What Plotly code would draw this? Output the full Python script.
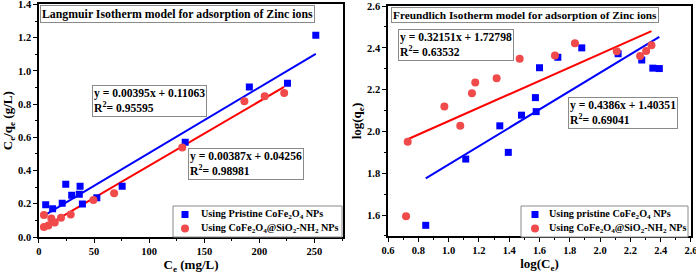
import plotly.graph_objects as go

# ---- Langmuir data ----
lang_pristine_x = [6.1, 12.4, 21.1, 24.3, 29.7, 37.3, 36.6, 39.4, 52.5, 75.5, 132.7, 190.9, 225.5, 251.2]
lang_pristine_y = [0.194, 0.170, 0.203, 0.317, 0.251, 0.306, 0.258, 0.198, 0.236, 0.306, 0.571, 0.903, 0.925, 1.214]
lang_sio2_x = [4.5, 4.5, 8.5, 11.2, 14.3, 20.0, 28.8, 49.4, 68.2, 130.0, 186.4, 204.8, 222.5]
lang_sio2_y = [0.132, 0.060, 0.070, 0.112, 0.088, 0.116, 0.136, 0.222, 0.263, 0.539, 0.817, 0.847, 0.867]
lang_fit_pristine = (0.00395, 0.11063)
lang_fit_sio2 = (0.00387, 0.04256)
lang_yticks = [0.0, 0.2, 0.4, 0.6, 0.8, 1.0, 1.2, 1.4]
lang_names = ["Using Pristine CoFe<sub>2</sub>O<sub>4</sub> NPs",
              "Using CoFe<sub>2</sub>O<sub>4</sub>@SiO<sub>2</sub>-NH<sub>2</sub> NPs"]

# ---- Freundlich data ----
fr_pristine_x = [0.849, 1.113, 1.394, 1.338, 1.481, 1.578, 1.573, 1.600, 1.721, 1.879, 2.119, 2.275, 2.348, 2.391]
fr_pristine_y = [1.551, 1.868, 1.900, 2.027, 2.078, 2.095, 2.162, 2.305, 2.355, 2.400, 2.372, 2.342, 2.303, 2.301]
fr_sio2_x = [0.719, 0.730, 0.972, 1.077, 1.154, 1.176, 1.317, 1.469, 1.702, 1.834, 2.110, 2.264, 2.304, 2.339]
fr_sio2_y = [1.594, 1.951, 2.119, 2.027, 2.183, 2.234, 2.255, 2.348, 2.363, 2.422, 2.384, 2.361, 2.385, 2.412]
fr_fit_pristine = (0.4386, 1.40351)
fr_fit_sio2 = (0.32151, 1.72798)
fr_names = ["Using pristine CoFe<sub>2</sub>O<sub>4</sub> NPs",
            "Using CoFe<sub>2</sub>O<sub>4</sub>@SiO<sub>2</sub>-NH<sub>2</sub> NPs"]

BLUE = "#0000FF"
RED_M = "#F04A4A"
RED_L = "#FF0000"
FONT = "Liberation Serif"
GRAY = "#8a8a8a"

def fit_line(xs, coef):
    x0, x1 = min(xs), max(xs)
    return [x0, x1], [coef[0] * x0 + coef[1], coef[0] * x1 + coef[1]]

fig = go.Figure()

def add_panel(xa, ya, px, py, sx, sy, cp, cs, names):
    lx, ly = fit_line(px, cp)
    fig.add_trace(go.Scatter(x=lx, y=ly, mode="lines", line=dict(color=BLUE, width=2), showlegend=False, xaxis=xa, yaxis=ya))
    lx, ly = fit_line(sx, cs)
    fig.add_trace(go.Scatter(x=lx, y=ly, mode="lines", line=dict(color=RED_L, width=2), showlegend=False, xaxis=xa, yaxis=ya))
    fig.add_trace(go.Scatter(x=px, y=py, mode="markers", marker=dict(symbol="square", size=7, color=BLUE),
                             name=names[0], showlegend=False, xaxis=xa, yaxis=ya))
    fig.add_trace(go.Scatter(x=sx, y=sy, mode="markers", marker=dict(symbol="circle", size=8, color=RED_M),
                             name=names[1], showlegend=False, xaxis=xa, yaxis=ya))

add_panel("x", "y", lang_pristine_x, lang_pristine_y, lang_sio2_x, lang_sio2_y, lang_fit_pristine, lang_fit_sio2, lang_names)
add_panel("x2", "y2", fr_pristine_x, fr_pristine_y, fr_sio2_x, fr_sio2_y, fr_fit_pristine, fr_fit_sio2, fr_names)

tickfont = dict(family=FONT, size=10.5, color="black", weight="bold")
titlefont = dict(family=FONT, size=13, color="black", weight="bold")

def ax(**kw):
    d = dict(showline=True, linecolor="black", linewidth=1.5, mirror=True, ticks="outside",
             ticklen=4, tickwidth=1.2, tickcolor="black", showgrid=False, zeroline=False, automargin=False,
             ticklabeloverflow="allow",
             tickfont=tickfont, minor=dict(ticks="outside", ticklen=2.5, tickwidth=1, tickcolor="black"))
    d.update(kw)
    return d

fig.update_layout(
    template="none",
    width=696, height=276, margin=dict(l=0, r=0, t=0, b=0, autoexpand=False),
    paper_bgcolor="white", plot_bgcolor="white", showlegend=False,
    xaxis=ax(domain=[0.056, 0.493], range=[0, 276], dtick=50, tick0=0, minor_dtick=25,
             title=dict(text="C<sub>e</sub> (mg/L)", font=titlefont, standoff=4), anchor="y"),
    yaxis=ax(domain=[0.1413, 0.984], range=[0, 1.4], tickmode="array", tickvals=lang_yticks,
             ticktext=[f"{v:.1f}" for v in lang_yticks], minor=dict(ticks="outside", ticklen=2.5, tickwidth=1,
                                                                  tickcolor="black", dtick=0.1, tick0=0),
             title=dict(text="C<sub>e</sub>/q<sub>e</sub> (g/L)", font=titlefont, standoff=2), anchor="x"),
    xaxis2=ax(domain=[0.5575, 0.9928], range=[0.6, 2.60001], dtick=0.2, tick0=0.6, minor_dtick=0.1, tickformat=".1f",
              title=dict(text="log(C<sub>e</sub>)", font=titlefont, standoff=4), anchor="y2"),
    yaxis2=ax(domain=[0.145, 0.978], range=[1.5, 2.60001], dtick=0.2, tick0=1.6, minor_dtick=0.1, tickformat=".1f",
              title=dict(text="log(q<sub>e</sub>)", font=titlefont, standoff=2), anchor="x2"),
)

afont = dict(family=FONT, size=11.6, color="black", weight="bold")
annots = [
    dict(text="Langmuir Isotherm model for adsorption of Zinc ions", x=0.057, y=0.982,
         font=dict(family=FONT, size=11.8, color="black", weight="bold")),
    dict(text="Freundlich Isotherm model for adsorption of Zinc ions", x=0.5618, y=0.973,
         font=dict(family=FONT, size=11.3, color="black", weight="bold")),
    dict(text="y = 0.00395x + 0.11063<br>R<sup>2</sup>= 0.95595", x=0.132, y=0.692, font=afont),
    dict(text="y = 0.00387x + 0.04256<br>R<sup>2</sup>= 0.98981", x=0.270, y=0.464, font=afont),
    dict(text="y = 0.32151x + 1.72798<br>R<sup>2</sup>= 0.63532", x=0.572, y=0.895, font=afont),
    dict(text="y = 0.4386x + 1.40351<br>R<sup>2</sup>= 0.69041", x=0.816, y=0.649, font=afont),
]
for a in annots:
    fig.add_annotation(xref="paper", yref="paper", xanchor="left", yanchor="top", showarrow=False,
                       align="left", bgcolor="white", bordercolor=GRAY, borderwidth=1, borderpad=1, **a)

# Manual compact legends (box in paper coords, glyphs + labels)
W, H = 696.0, 276.0
lfont = dict(family=FONT, size=10.2, color="black", weight="bold")
def legend_box(x0, x1, y0, y1, mx, tx, row_y, names):
    fig.add_shape(type="rect", xref="paper", yref="paper", x0=x0 / W, x1=x1 / W, y0=1 - y1 / H, y1=1 - y0 / H,
                  line=dict(color=GRAY, width=1), fillcolor="white", layer="above")
    fig.add_shape(type="rect", xref="paper", yref="paper", x0=(mx - 3.5) / W, x1=(mx + 3.5) / W,
                  y0=1 - (row_y[0] + 3.5) / H, y1=1 - (row_y[0] - 3.5) / H,
                  line=dict(width=0), fillcolor=BLUE, layer="above")
    fig.add_shape(type="circle", xref="paper", yref="paper", x0=(mx - 4) / W, x1=(mx + 4) / W,
                  y0=1 - (row_y[1] + 4) / H, y1=1 - (row_y[1] - 4) / H,
                  line=dict(width=0), fillcolor=RED_M, layer="above")
    for ry, nm in zip(row_y, names):
        fig.add_annotation(xref="paper", yref="paper", x=tx / W, y=1 - ry / H, xanchor="left", yanchor="middle",
                           text=nm, showarrow=False, font=lfont)

legend_box(173, 342, 206, 237, 185, 199, [214.5, 228.5], lang_names)
legend_box(521, 688, 206, 237, 535, 547, [214.5, 228.5], fr_names)

fig.write_html("out.html", config={"displayModeBar": False},
               post_script="document.body.style.margin='0px';")
